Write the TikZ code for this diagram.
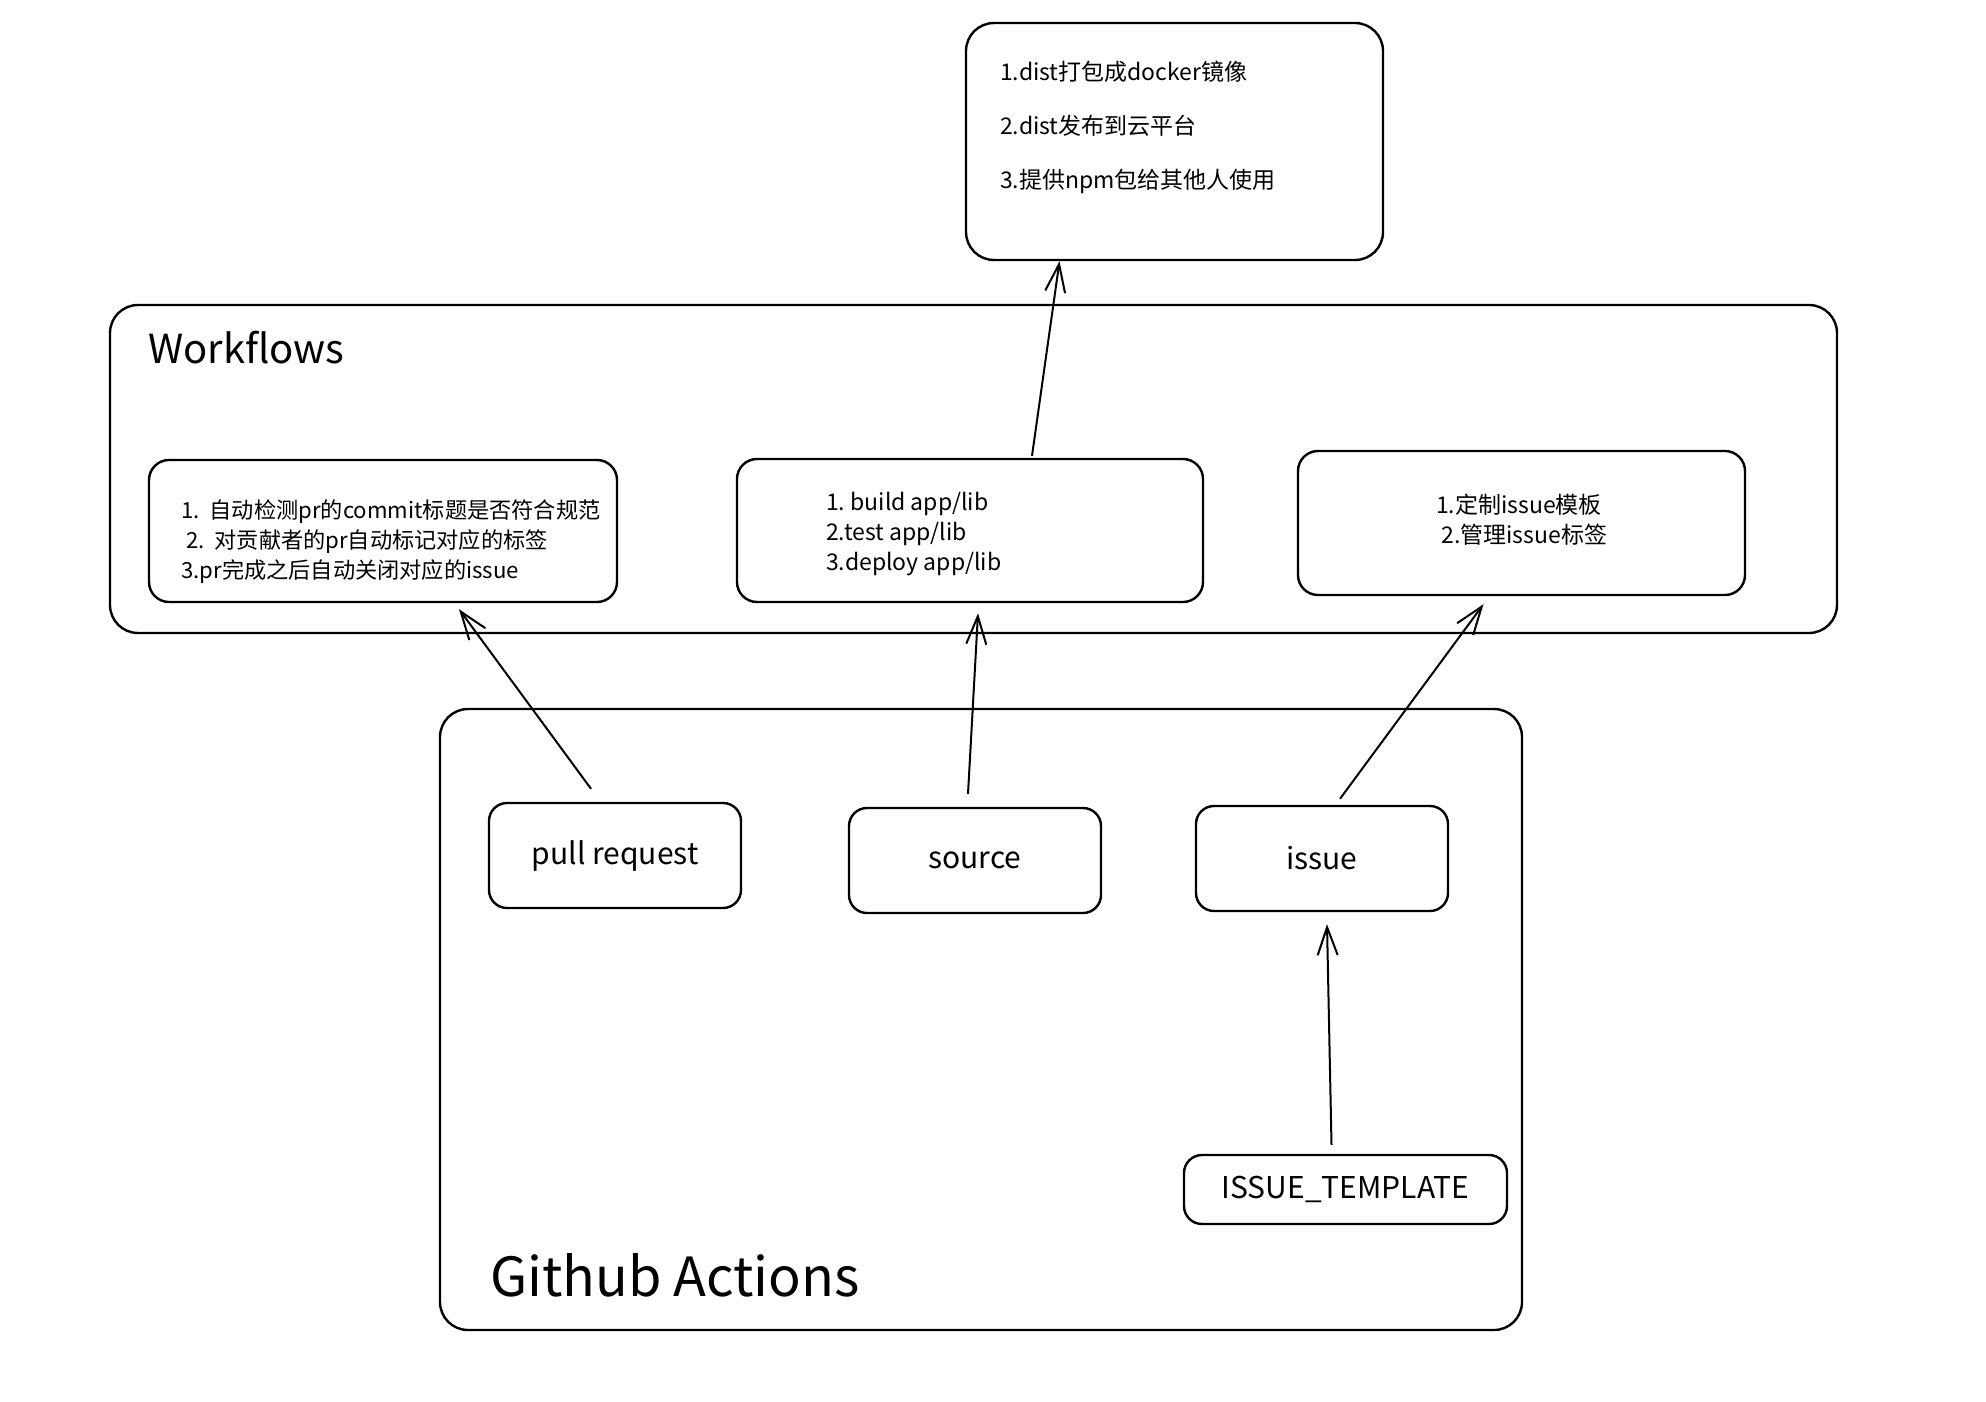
\documentclass[tikz,border=0pt]{standalone}
\usepackage{fontspec}
\setmainfont{Noto Sans CJK SC}
\usetikzlibrary{arrows.meta,calc}
\tikzset{every picture/.style={line width=1.2pt}}

\begin{document}
\begin{tikzpicture}[x=0.5pt,y=0.5pt,yscale=-1,
  frame/.style={draw, rounded corners=14pt, inner sep=0pt},
  card/.style={draw, rounded corners=10pt, inner sep=0pt},
  chip/.style={draw, rounded corners=9pt, inner sep=0pt, minimum width=126pt, minimum height=52.5pt, font=\fontsize{15}{18}\selectfont},
  txt/.style={inner sep=0pt, align=left, font=\fontsize{11.5}{15}\selectfont},
  arr/.style={line width=1pt, -{Straight Barb[length=14pt,width=10pt]}}]
\useasboundingbox (0,0) rectangle (1986,1402);

%Shape: Rounded Rect [id:deploy]
\node[frame, minimum width=208.5pt, minimum height=118.5pt] (deploy) at (1174.5,141.5) {};
% Text Node
\node[txt, font=\fontsize{11.5}{27}\selectfont, anchor=west] (deploytxt) at (999,127) {1.dist打包成docker镜像\\2.dist发布到云平台\\3.提供npm包给其他人使用};

%Shape: Rounded Rect [id:wf]
\node[frame, minimum width=863.5pt, minimum height=164pt] (wf) at (973.5,469) {};
% Text Node
\node[anchor=west, inner sep=0pt, font=\fontsize{20}{24}\selectfont] (wflabel) at (147,348) {Workflows};

%Shape: Rounded Rect [id:lint]
\node[card, minimum width=234pt, minimum height=71pt] (lint) at (383,531) {};
% Text Node
\node[txt, font=\fontsize{11.1}{15}\selectfont, anchor=west] (linttxt) at (180,542) {1.\ \ 自动检测pr的commit标题是否符合规范\\\ 2.\ \ 对贡献者的pr自动标记对应的标签\\3.pr完成之后自动关闭对应的issue};

%Shape: Rounded Rect [id:ci]
\node[card, minimum width=233pt, minimum height=71.5pt] (ci) at (970,530.5) {};
% Text Node
\node[txt, anchor=west] (citxt) at (825,534) {1.~build app/lib\\2.test app/lib\\3.deploy app/lib};

%Shape: Rounded Rect [id:tpl]
\node[card, minimum width=223.5pt, minimum height=72pt] (tpl) at (1521.5,523) {};
% Text Node
\node[txt, anchor=west] (tpltxt) at (1435,520) {1.定制issue模板\\~2.管理issue标签};

%Shape: Rounded Rect [id:ga]
\node[frame, minimum width=541pt, minimum height=310.5pt] (ga) at (981,1019.5) {};
% Text Node
\node[anchor=west, inner sep=0pt, font=\fontsize{27}{32}\selectfont] (galabel) at (489,1275) {Github Actions};

%Shape: Rounded Rect [id:pull]
\node[chip] (pull) at (615,855.5) {pull request};
%Shape: Rounded Rect [id:src]
\node[chip] (src) at (975,860.5) {source};
%Shape: Rounded Rect [id:iss]
\node[chip] (iss) at (1322,858.5) {issue};
%Shape: Rounded Rect [id:it]
\node[chip, minimum width=161.5pt, minimum height=34.5pt] (it) at (1345.5,1189.5) {ISSUE\_TEMPLATE};

%Straight Lines [id:ci-deploy]
\draw[arr] ($(ci.north)+(62,-2)$) -- ($(deploy.south)+(-115,0)$);
%Straight Lines [id:pull-lint]
\draw[arr] ($(pull.north)+(-24,-13)$) -- ($(lint.south)+(76,6)$);
%Straight Lines [id:src-ci]
\draw[arr] ($(src.north)+(-7,-13)$) -- ($(ci.south)+(8,10)$);
%Straight Lines [id:iss-tpl]
\draw[arr] ($(iss.north)+(18,-6)$) -- ($(tpl.south)+(-38,8)$);
%Straight Lines [id:it-iss]
\draw[arr] ($(it.north)+(-14,-9)$) -- ($(iss.south)+(5,12)$);

\end{tikzpicture}
\end{document}
